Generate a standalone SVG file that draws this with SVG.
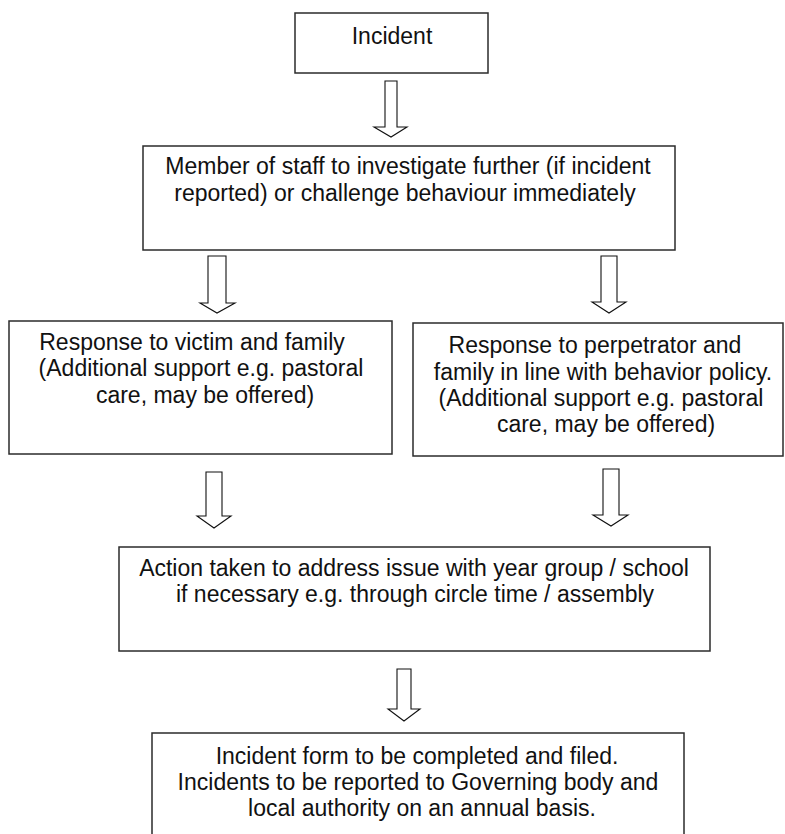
<svg xmlns="http://www.w3.org/2000/svg" width="785" height="834" viewBox="0 0 785 834">
<style>
.box{fill:#fff;stroke:#2b2b2b;stroke-width:1.5}
.arr{fill:#fff;stroke:#111;stroke-width:1.1;stroke-linejoin:miter}
text{font-family:"Liberation Sans",Arial,Helvetica,sans-serif;font-size:23px;fill:#111;text-anchor:middle}
</style>
<rect width="785" height="834" fill="#fff"/>
<g id="connectors">
<polygon class="arr" points="385,81 397,81 397,127 407,127 391,137 374,127 385,127"/>
<polygon class="arr" points="208,256 226,256 226,303 235,303 217,313 200,303 208,303"/>
<polygon class="arr" points="601,256 617,256 617,302 626,302 609,313 592,302 601,302"/>
<polygon class="arr" points="206,472 222,472 222,516 231,516 214,528 197,516 206,516"/>
<polygon class="arr" points="603,469 619,469 619,515 628,515 611,526 593,515 603,515"/>
<polygon class="arr" points="397,669 411,669 411,709 420,709 404,721 388,709 397,709"/>
</g>
<g id="incident">
<rect class="box" x="295" y="13" width="193" height="60"/>
<text x="392" y="44">Incident</text>
</g>
<g id="investigate">
<rect class="box" x="143" y="146" width="532" height="104"/>
<text x="408" y="174">Member of staff to investigate further (if incident</text>
<text x="405" y="201">reported) or challenge behaviour immediately</text>
</g>
<g id="victim">
<rect class="box" x="9" y="321" width="383" height="133"/>
<text x="192" y="350">Response to victim and family</text>
<text x="201" y="376">(Additional support e.g. pastoral</text>
<text x="205" y="403">care, may be offered)</text>
</g>
<g id="perpetrator">
<rect class="box" x="413" y="323" width="370" height="133"/>
<text x="595" y="353">Response to perpetrator and</text>
<text x="603" y="380">family in line with behavior policy.</text>
<text x="601" y="406">(Additional support e.g. pastoral</text>
<text x="606" y="432">care, may be offered)</text>
</g>
<g id="action">
<rect class="box" x="119" y="547" width="591" height="104"/>
<text x="414" y="576">Action taken to address issue with year group / school</text>
<text x="415" y="602">if necessary e.g. through circle time / assembly</text>
</g>
<g id="form">
<rect class="box" x="152" y="733" width="532" height="130"/>
<text x="417" y="764">Incident form to be completed and filed.</text>
<text x="418" y="790">Incidents to be reported to Governing body and</text>
<text x="422" y="816">local authority on an annual basis.</text>
</g>
</svg>
